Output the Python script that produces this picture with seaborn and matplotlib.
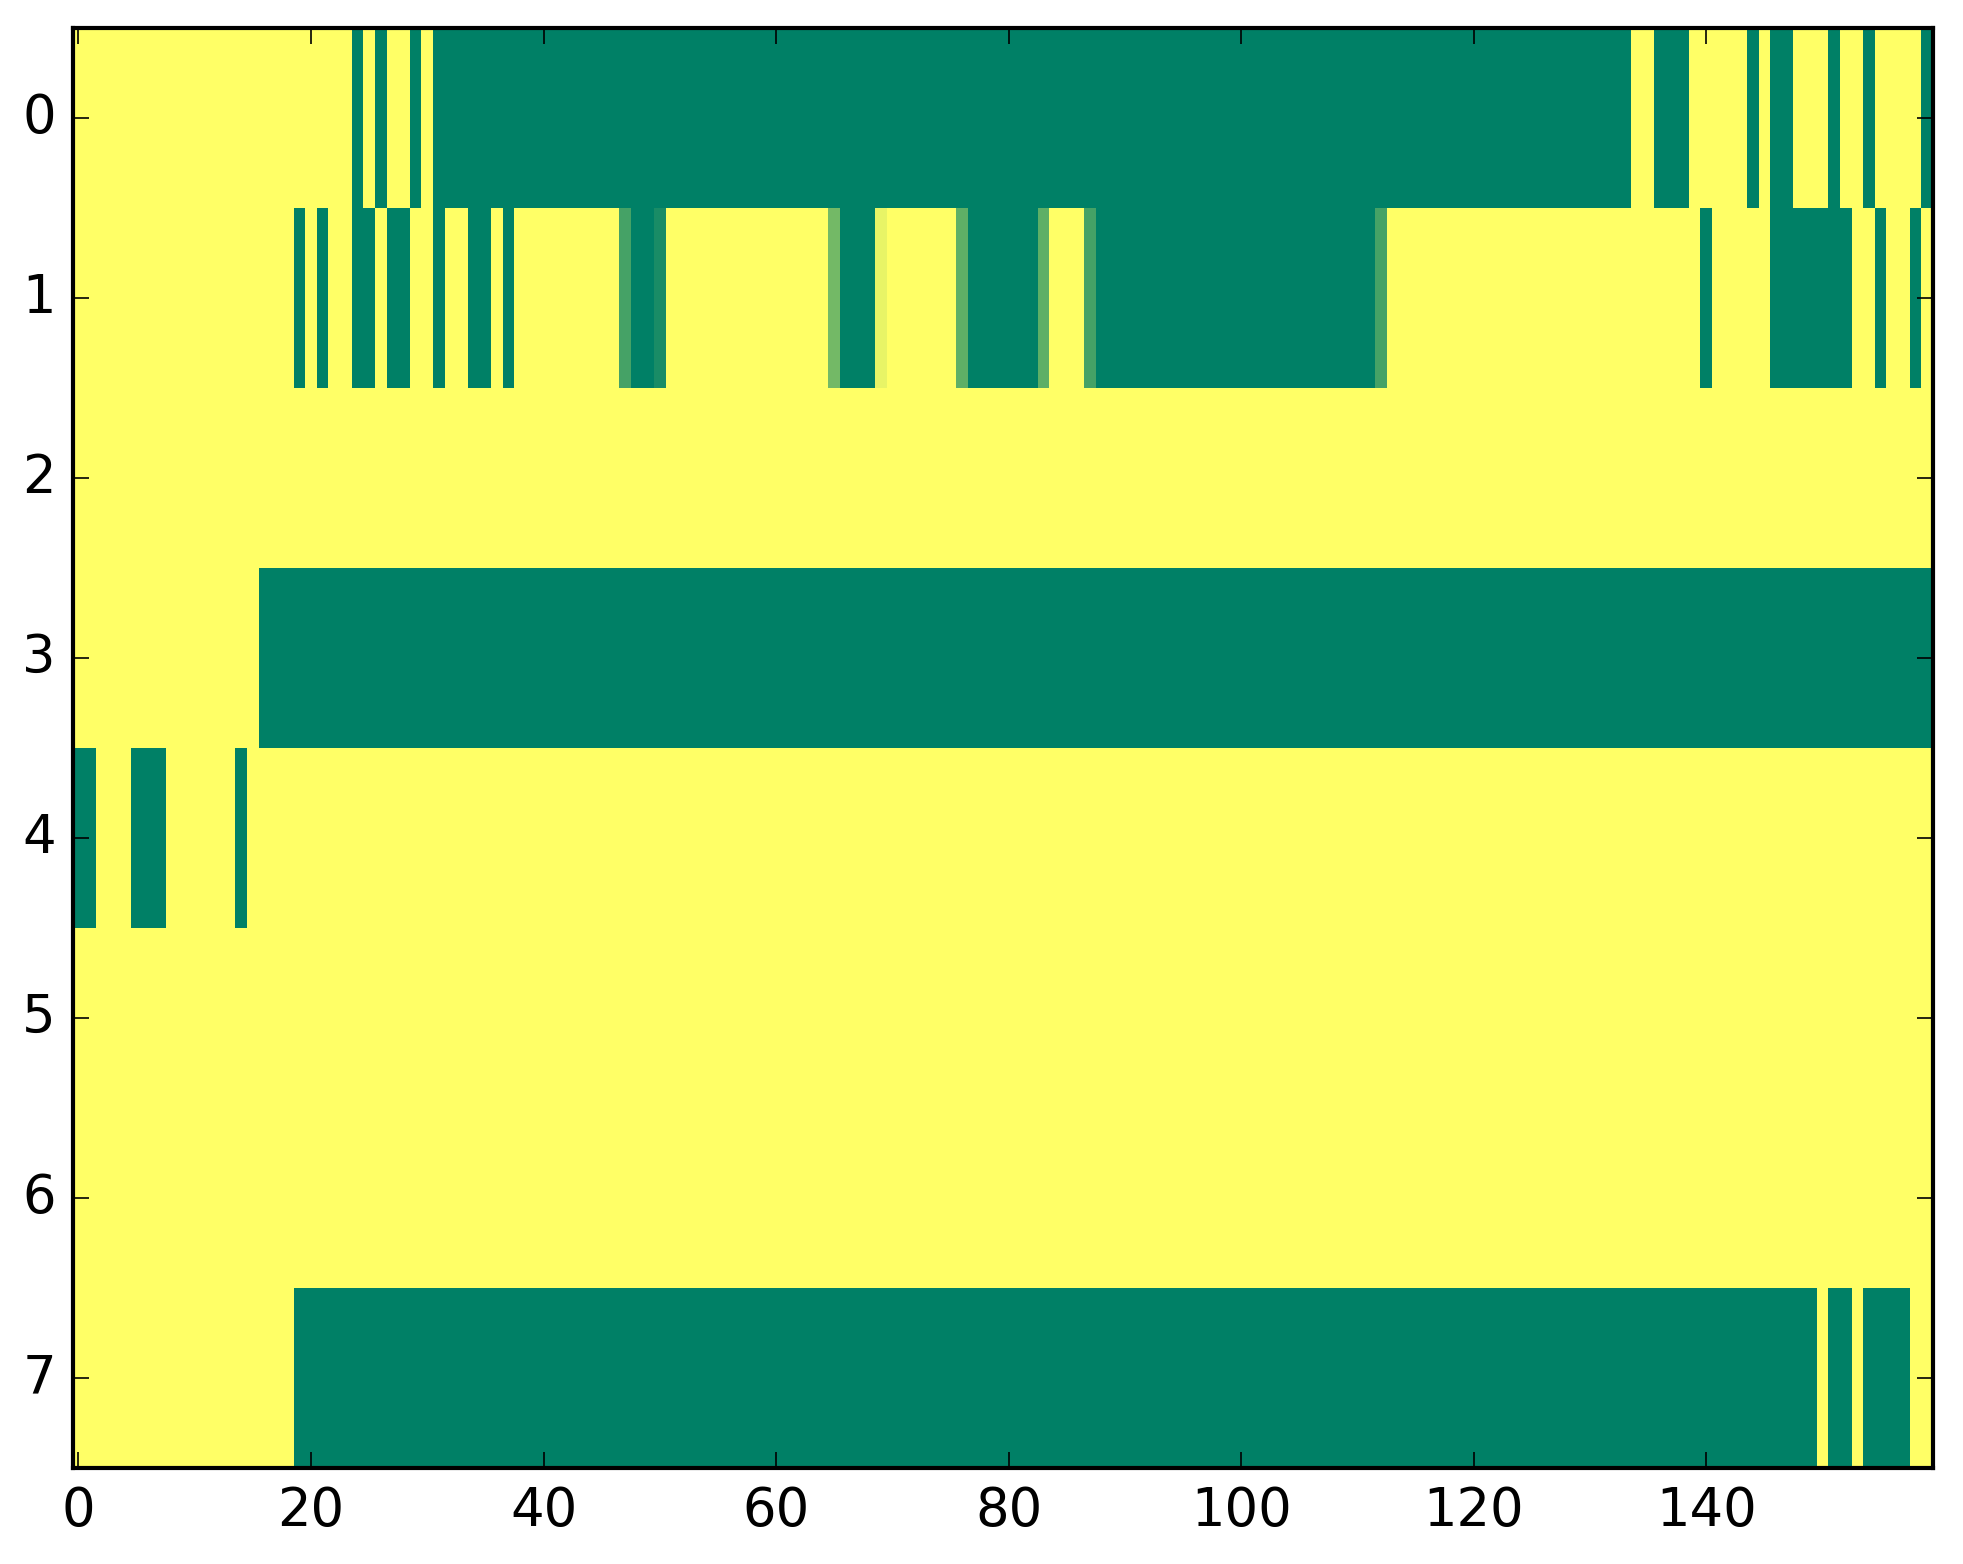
import numpy as np
import matplotlib
matplotlib.use("Agg")
import matplotlib.pyplot as plt
import seaborn as sns

# Each row is given as runs: (value, number of consecutive columns)
row0_runs = [(0, 24), (1, 1), (0, 1), (1, 1), (0, 2), (1, 1), (0, 1), (1, 103),
             (0, 2), (1, 3), (0, 5), (1, 1), (0, 1), (1, 2), (0, 3), (1, 1),
             (0, 2), (1, 1), (0, 4), (1, 1)]
row1_runs = [(0, 19), (1, 1), (0, 1), (1, 1), (0, 2), (1, 2), (0, 1), (1, 2),
             (0, 2), (1, 1), (0, 2), (1, 2), (0, 1), (1, 1), (0, 9), (0.73, 1),
             (1, 2), (0.9, 1), (0, 14), (0.55, 1), (1, 3), (0.09, 1), (0, 6),
             (0.63, 1), (1, 6), (0.63, 1), (0, 3), (0.73, 1), (1, 24), (0.73, 1),
             (0, 27), (1, 1), (0, 5), (1, 7), (0, 2), (1, 1), (0, 2), (1, 1), (0, 1)]
row2_runs = [(0, 160)]
row3_runs = [(0, 16), (1, 144)]
row4_runs = [(1, 2), (0, 3), (1, 3), (0, 6), (1, 1), (0, 145)]
row5_runs = [(0, 160)]
row6_runs = [(0, 160)]
row7_runs = [(0, 19), (1, 131), (0, 1), (1, 2), (0, 1), (1, 4), (0, 2)]

x_tick_labels = ["0", "20", "40", "60", "80", "100", "120", "140"]
y_tick_labels = ["0", "1", "2", "3", "4", "5", "6", "7"]


def expand(runs):
    vals = [v for v, _ in runs]
    counts = [n for _, n in runs]
    return np.repeat(vals, counts)


data = np.vstack([expand(r) for r in [row0_runs, row1_runs, row2_runs, row3_runs,
                                        row4_runs, row5_runs, row6_runs, row7_runs]])

sns.set_style("ticks")
plt.rcParams["font.family"] = ["DejaVu Sans"]

W, H, DPI = 1963, 1564, 200
fig = plt.figure(figsize=(W / DPI, H / DPI), dpi=DPI)
ax = fig.add_axes([72.6 / W, 1 - 1468 / H, (1933 - 72.6) / W, (1468 - 28) / H])

sns.heatmap(data, ax=ax, cmap="summer_r", vmin=0, vmax=1, cbar=False)

ncols = data.shape[1]
nrows = data.shape[0]
ax.set_xlim(0, ncols)
ax.set_ylim(nrows, 0)
ax.set_xticks([int(t) + 0.5 for t in x_tick_labels])
ax.set_xticklabels(x_tick_labels, rotation=0)
ax.set_yticks([int(t) + 0.5 for t in y_tick_labels])
ax.set_yticklabels(y_tick_labels, rotation=0)
ax.set_axisbelow(False)

for s in ax.spines.values():
    s.set_visible(True)
    s.set_linewidth(1.5)
    s.set_color("black")
    s.set_zorder(5)

ax.tick_params(axis="both", which="major", direction="in", length=5.8, width=0.6,
               top=True, right=True, bottom=True, left=True,
               labelsize=19, pad=6, colors="black")
ax.tick_params(axis="x", pad=6)
ax.set_xlabel("")
ax.set_ylabel("")

fig.savefig("out.png", dpi=DPI)
